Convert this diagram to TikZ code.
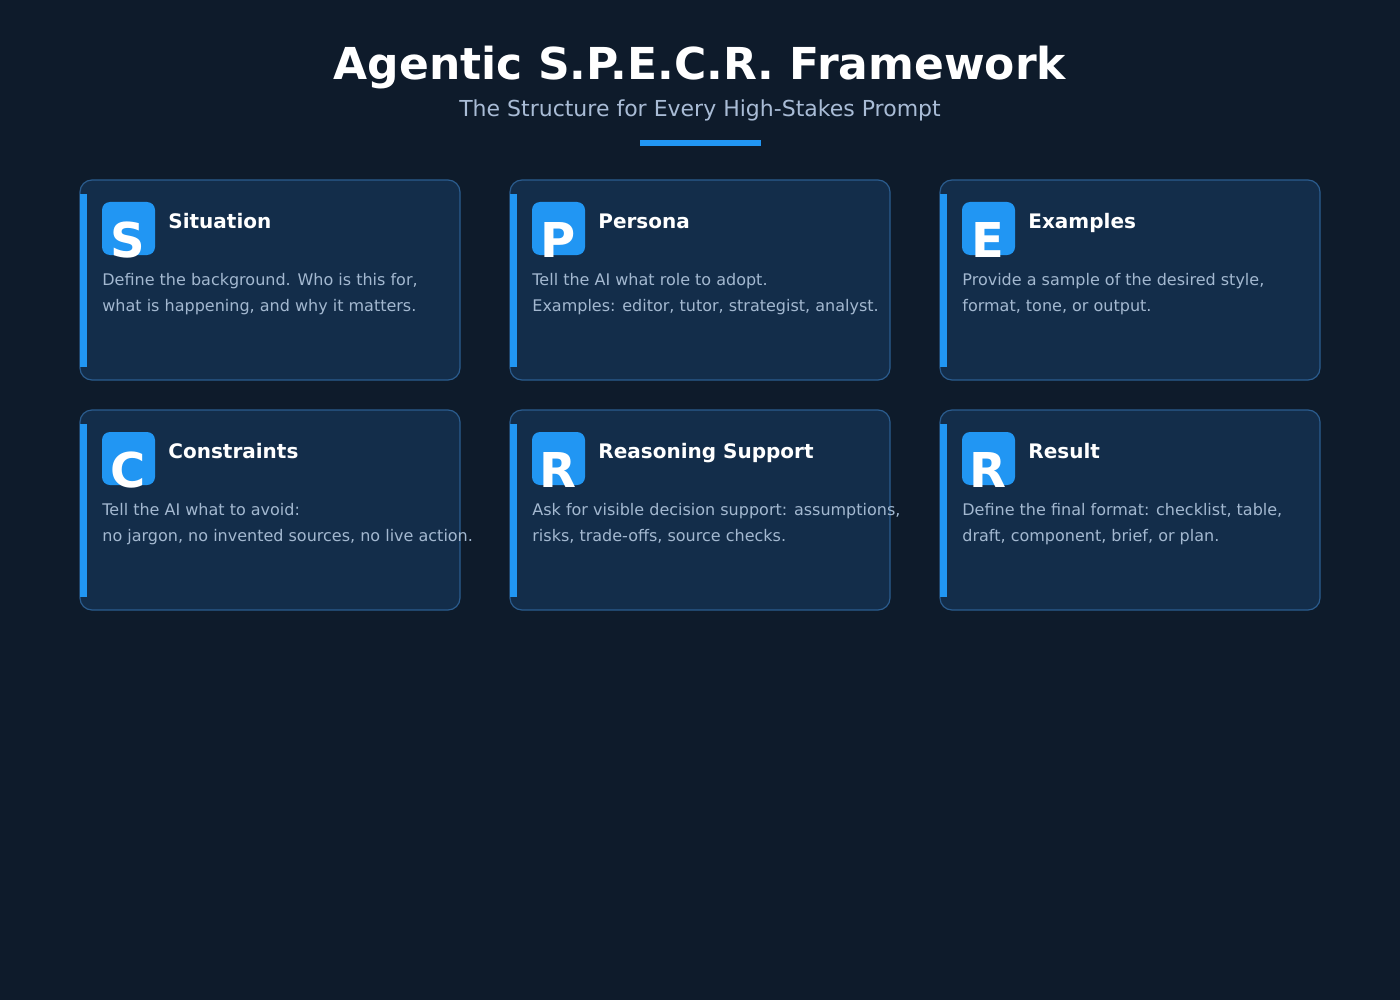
\documentclass[tikz,border=0pt]{standalone}
\usepackage{fontspec}
\setmainfont{DejaVu Sans}
\definecolor{bgcol}{HTML}{0E1B2B}
\definecolor{cardcol}{HTML}{132D4A}
\definecolor{edgecol}{HTML}{2B5C8E}
\definecolor{accent}{HTML}{2196F3}
\definecolor{subcol}{HTML}{A9BCD6}
\definecolor{bodycol}{HTML}{A3B8D0}
\begin{document}
\begin{tikzpicture}[x=0.5pt,y=-0.5pt,
    card/.style={draw=edgecol, fill=cardcol, line width=0.6pt, rounded corners=6pt},
    bar/.style={fill=accent},
    icon/.style={fill=accent, rounded corners=4pt},
    letter/.style={text=white, font=\bfseries\fontsize{24}{24}\selectfont, anchor=base, inner sep=0pt},
    heading/.style={text=white, font=\bfseries\fontsize{10}{12}\selectfont, anchor=base west, inner sep=0pt},
    body/.style={text=bodycol, font=\fontsize{8}{13}\selectfont, anchor=north west, inner sep=0pt, align=left}]
    \fill[bgcol] (0,0) rectangle (1400,1000);

    % title block
    \node (title) [text=white, font=\bfseries\fontsize{22}{26}\selectfont, anchor=base] at (700,80) {Agentic S.P.E.C.R. Framework};
    \node (subtitle) [text=subcol, font=\fontsize{11}{13}\selectfont, anchor=base] at (700,117) {The Structure for Every High-Stakes Prompt};
    \fill[accent] (640,140) rectangle (761,146);

    % cards
    \foreach \x/\y/\l/\h/\t [count=\i] in {
        80/180/S/Situation/{Define the background. Who is this for,\\what is happening, and why it matters.},
        510/180/P/Persona/{Tell the AI what role to adopt.\\Examples: editor, tutor, strategist, analyst.},
        940/180/E/Examples/{Provide a sample of the desired style,\\format, tone, or output.},
        80/410/C/Constraints/{Tell the AI what to avoid:\\no jargon, no invented sources, no live action.},
        510/410/R/Reasoning Support/{Ask for visible decision support: assumptions,\\risks, trade-offs, source checks.},
        940/410/R/Result/{Define the final format: checklist, table,\\draft, component, brief, or plan.}} {
        \draw[card] (\x,\y) rectangle ++(380,200);
        \fill[bar] (\x,\y+14) rectangle ++(7,173);
        \fill[icon] (\x+22,\y+22) rectangle ++(53,53);
        \node (letter\i) [letter] at (\x+48,\y+77) {\l};
        \node (head\i) [heading] at (\x+88,\y+48) {\h};
        \node (body\i) [body] at (\x+22,\y+93) {\t};
    }
\end{tikzpicture}
\end{document}
